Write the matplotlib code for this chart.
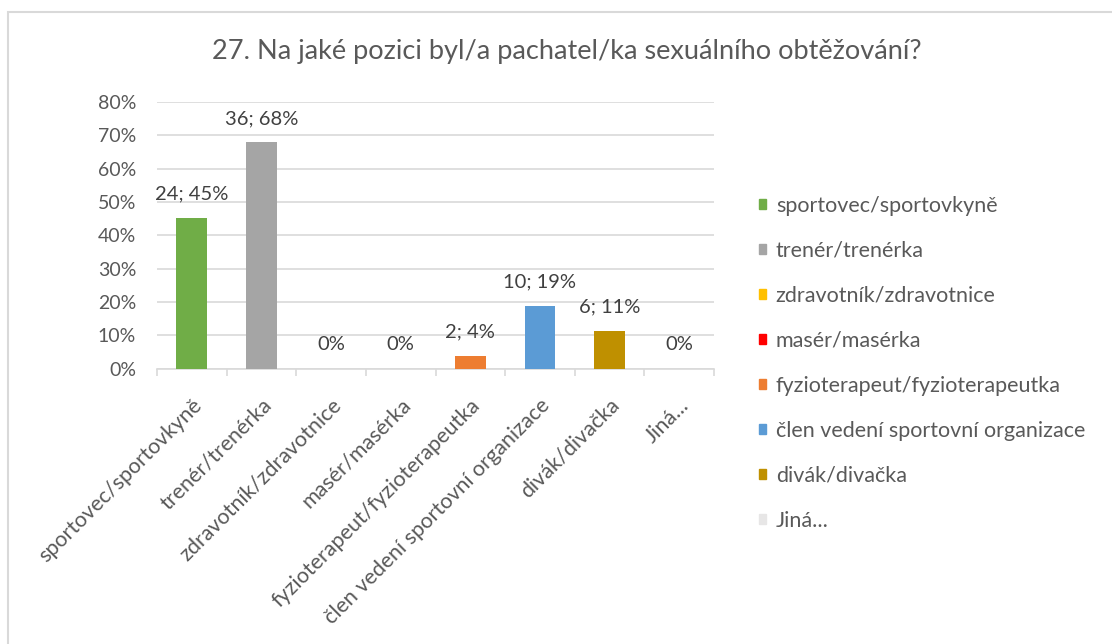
import matplotlib.pyplot as plt
from matplotlib.patches import Patch, Rectangle
import numpy as np

plt.rcParams['font.family'] = ['Lato', 'DejaVu Sans']

# Data
categories = ['sportovec/sportovkyně', 'trenér/trenérka', 'zdravotník/zdravotnice',
              'masér/masérka', 'fyzioterapeut/fyzioterapeutka',
              'člen vedení sportovní organizace', 'divák/divačka', 'Jiná...']
counts = [24, 36, 0, 0, 2, 10, 6, 0]
total = 53
colors = ['#70ad47', '#a5a5a5', '#ffc000', '#ff0000', '#ed7d31',
          '#5b9bd5', '#bf9000', '#e7e6e6']
y_ticks = [0, 0.1, 0.2, 0.3, 0.4, 0.5, 0.6, 0.7, 0.8]

shares = [c / total for c in counts]
txt = '#595959'

fig = plt.figure(figsize=(11.12, 6.44), dpi=100)
# outer chart frame
fig.patches.append(Rectangle((8 / 1112, -0.05), 1.2, 1 - 12 / 644 + 0.05,
                             transform=fig.transFigure, fill=False,
                             edgecolor='#d9d9d9', linewidth=1.5))

ax = fig.add_axes([157 / 1112, 1 - 368.5 / 644, 557 / 1112, 266.5 / 644])
x = np.arange(len(categories))
ax.bar(x, shares, width=0.44, color=colors, zorder=3)

for xi, c, s in zip(x, counts, shares):
    lab = '0%' if c == 0 else f'{c}; {round(s * 100)}%'
    ax.annotate(lab, (xi, s), xytext=(0, 13), textcoords='offset points',
                ha='center', va='baseline', fontsize=14.5, color='#404040')

ax.set_ylim(0, 0.8)
ax.set_xlim(-0.5, len(categories) - 0.5)
ax.set_yticks(y_ticks)
ax.set_yticklabels([f'{int(round(t * 100))}%' for t in y_ticks], fontsize=14, color=txt)
ax.yaxis.grid(True, color='#d9d9d9', linewidth=1.2, zorder=0)
ax.tick_params(axis='y', length=0, pad=15)

ax.set_xticks(x)
ax.set_xticklabels(categories, rotation=45, ha='right', rotation_mode='anchor',
                   fontsize=15.5, color=txt)
ax.tick_params(axis='x', which='major', length=0, pad=19)
ax.set_xticks(np.arange(-0.5, len(categories)), minor=True)
ax.tick_params(axis='x', which='minor', length=5, color='#d9d9d9', width=1.2)

for sp in ['top', 'right', 'left']:
    ax.spines[sp].set_visible(False)
ax.spines['bottom'].set_color('#d9d9d9')
ax.spines['bottom'].set_linewidth(1.2)

fig.text(567 / 1112, 1 - 52 / 644, '27. Na jaké pozici byl/a pachatel/ka sexuálního obtěžování?',
         ha='center', va='center', fontsize=19.5, color=txt)

handles = [Patch(color=c) for c in colors]
fig.legend(handles, categories, loc='upper left', bbox_to_anchor=(759 / 1112, 1 - 196 / 644),
           frameon=False, fontsize=15.5, labelcolor=txt, handlelength=0.33,
           handleheight=0.33, handletextpad=0.45, labelspacing=1.16, borderpad=0,
           borderaxespad=0)

fig.savefig('out.png', dpi=100)
